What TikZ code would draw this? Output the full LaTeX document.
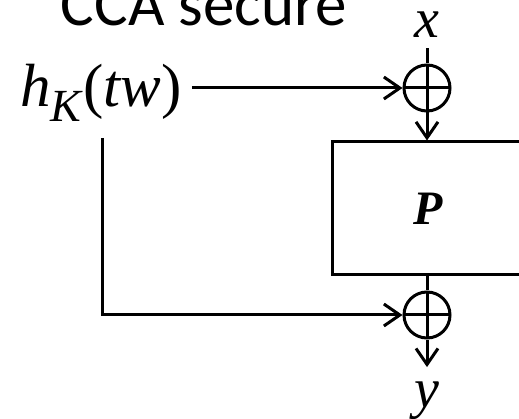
\documentclass[tikz,border=0pt]{standalone}
\usepackage{fontspec}
\setmainfont{Liberation Serif}
\newfontfamily\titlefont{Carlito}
\usetikzlibrary{arrows.meta}

\tikzset{
  wire/.style={line width=3pt},
  arr/.style={wire,-{Straight Barb[length=16pt,width=22pt]}},
  xor/.style={circle,draw,line width=3pt,minimum size=46pt,inner sep=0pt,
    path picture={
      \draw[line width=3pt] (path picture bounding box.north) -- (path picture bounding box.south);
      \draw[line width=3pt] (path picture bounding box.west) -- (path picture bounding box.east);}},
  blk/.style={draw,line width=3pt,minimum width=192pt,minimum height=133pt,inner sep=0pt,
    font=\fontsize{48}{48}\selectfont\bfseries\itshape},
  lbl/.style={inner sep=0pt,font=\fontsize{56}{56}\selectfont\itshape}
}

\begin{document}
\begin{tikzpicture}[x=1pt,y=-1pt]
\clip (0,0) rectangle (519,419);
\node[anchor=base,inner sep=0pt,font=\titlefont\fontsize{63}{63}\selectfont] (title) at (204,26) {CCA secure};
\node[anchor=base west,inner sep=0pt,font=\fontsize{61}{61}\selectfont] (hk) at (20,107)
  {\textit{h}\raisebox{-15pt}{\fontsize{46}{46}\selectfont\textit{K}}(\textit{tw})};
\node[xor] (xa) at (427,88) {};
\node[lbl,anchor=base] (xin) at (427,38) {x};
\node[blk] (perm) at (428,208.5) {P};
\node[xor] (xb) at (427,315) {};
\node[lbl,anchor=base] (yout) at (427,407) {y};
\coordinate (tap) at (102,138);
% input side
\draw[wire,shorten <=10pt] (xin.south) -- (xa.north);
\draw[arr] ([xshift=10pt]hk.east |- xa.west) -- (xa.west);
\draw[arr] (xa.south) -- (xa.south |- perm.north);
% output side
\draw[wire] (xb.north |- perm.south) -- (xb.north);
\draw[arr] (tap) |- (xb.west);
\draw[arr,shorten >=14pt] (xb.south) -- (xb.south |- yout.north);
\end{tikzpicture}
\end{document}
